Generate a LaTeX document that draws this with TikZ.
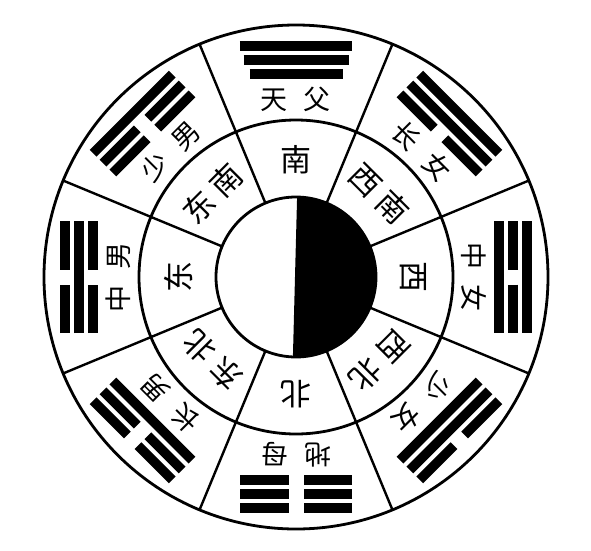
\documentclass[tikz,border=0pt]{standalone}
\usepackage{fontspec}
\newfontfamily\cjk{Noto Sans CJK SC}
\tikzset{
  ring/.style={draw=black, line width=2.8pt},
  divider/.style={draw=black, line width=2.4pt},
  yao/.style={line width=9.5pt, line cap=butt},
  dirlabel/.style={font=\cjk\fontsize{31}{31}\selectfont, inner sep=0pt},
  famlabel/.style={font=\cjk\fontsize{27}{27}\selectfont, inner sep=0pt, transform shape},
}
\newcommand\yaoline[3]{%
  \ifnum#2=1\relax
    \draw[yao] (-#3,#1) -- (#3,#1);
  \else
    \draw[yao] (-#3,#1) -- (-7.5,#1);
    \draw[yao] (7.5,#1) -- (#3,#1);
  \fi}
\newcommand\sector[9]{%
  \begin{scope}[rotate=#1-90]
    \node[famlabel] (#2) at (0,178) {#3};
    \yaoline{203}{#4}{#7}
    \yaoline{217}{#5}{#8}
    \yaoline{231}{#6}{#9}
  \end{scope}}
\begin{document}
\begin{tikzpicture}[x=1pt,y=1pt]
\useasboundingbox (-296,-273) rectangle (295,277);
\fill[white] (-296,-273) rectangle (295,277);
% yin-yang centre
\fill[black] (88.5:80) arc[start angle=88.5, end angle=-91.5, radius=80] -- cycle;
\draw[line width=2pt] (88.5:80) -- (268.5:80);
% rings
\draw[ring] (0,0) circle[radius=80];
\draw[ring] (0,0) circle[radius=157];
\draw[ring] (0,0) circle[radius=252];
\foreach \a in {22.5,67.5,...,337.5} \draw[divider] (\a:80) -- (\a:252);
% directions
\node[dirlabel, rotate=0]    (dirS)  at (90:117)   {南};
\node[dirlabel, rotate=-45]  (dirSW) at (45:118)   {西\hspace{8pt}南};
\node[dirlabel, rotate=-90]  (dirW)  at (0:117)    {西};
\node[dirlabel, rotate=-135] (dirNW) at (-45:118)  {西\hspace{8pt}北};
\node[dirlabel, rotate=180]  (dirN)  at (-90:117)  {北};
\node[dirlabel, rotate=135]  (dirNE) at (-135:118) {东\hspace{8pt}北};
\node[dirlabel, rotate=90]   (dirE)  at (180:117)  {东};
\node[dirlabel, rotate=45]   (dirSE) at (135:118)  {东\hspace{8pt}南};
% trigrams and family names
\sector{90}{famS}{天\hspace{16pt}父}{1}{1}{1}{46.5}{52.5}{56}
\sector{45}{famSW}{长\hspace{16pt}女}{0}{1}{1}{56}{56}{56}
\sector{0}{famW}{中\hspace{16pt}女}{1}{0}{1}{56}{56}{56}
\sector{-45}{famNW}{少\hspace{16pt}女}{1}{1}{0}{56}{56}{56}
\sector{-90}{famN}{地\hspace{16pt}母}{0}{0}{0}{56}{56}{56}
\sector{-135}{famNE}{长\hspace{16pt}男}{1}{0}{0}{56}{56}{56}
\sector{180}{famE}{中\hspace{16pt}男}{0}{1}{0}{56}{56}{56}
\sector{135}{famSE}{少\hspace{16pt}男}{0}{0}{1}{56}{56}{56}
\end{tikzpicture}
\end{document}
